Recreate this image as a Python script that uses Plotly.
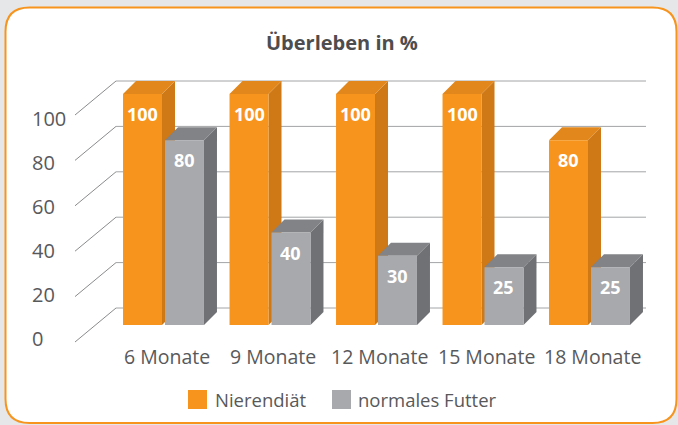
import plotly.graph_objects as go

# ---------------- data ----------------
categories = ["6 Monate", "9 Monate", "12 Monate", "15 Monate", "18 Monate"]
nierendiaet = [100, 100, 100, 100, 80]
normales_futter = [80, 40, 30, 25, 25]
series_names = ["Nierendiät", "normales Futter"]
y_ticks = [0, 20, 40, 60, 80, 100]
title_text = "Überleben in %"

# ---------------- layout constants (pixels) ----------------
W_PX, H_PX = 678, 425
X0, U = 163.5, 106.5        # pixel of group 0 centre, pixels per group
Y0, S = 325.0, 2.31         # pixel of value 0 on bar front plane, px per unit
OFF = 0.197                 # bar centre offset from group centre (groups units)
BW = 0.366                  # bar width (group units)
DEPTH = 13.0                # bar depth in pixels (oblique)
WALL_Y0, WALL_S = 308.0, 2.27
WALL_L, WALL_R = 116.0, 646.0
DIAG_DX, DIAG_DY = -41.0, 34.0

ORANGE = dict(front="#F7941D", top="#E2871B", side="#CE7816")
GRAY = dict(front="#A7A9AC", top="#818386", side="#707174")
TXT = "#58595B"
FONT = "Open Sans"


def px2x(px):
    return (px - X0) / U


def px2y(py):
    return (Y0 - py) / S


DXU = DEPTH / U
DYU = DEPTH / S

fig = go.Figure()
shapes = []
annotations = []

# card background
def card_path(x0, y0, x1, y1, r):
    def P(x, y):
        return f"{x / W_PX:.5f},{1 - y / H_PX:.5f}"
    return (f"M {P(x0 + r, y0)} L {P(x1 - r, y0)} Q {P(x1, y0)} {P(x1, y0 + r)} "
            f"L {P(x1, y1 - r)} Q {P(x1, y1)} {P(x1 - r, y1)} L {P(x0 + r, y1)} "
            f"Q {P(x0, y1)} {P(x0, y1 - r)} L {P(x0, y0 + r)} Q {P(x0, y0)} {P(x0 + r, y0)} Z")

shapes.append(dict(type="path", xref="paper", yref="paper", layer="below",
                   path=card_path(5.5, 7.5, 676.5, 423, 24),
                   fillcolor="white", line=dict(color="#F7941D", width=2)))

# back wall gridlines + left diagonals
for v in y_ticks:
    yb = WALL_Y0 - v * WALL_S
    shapes.append(dict(type="line", xref="x", yref="y", layer="below",
                       x0=px2x(WALL_L), x1=px2x(WALL_R), y0=px2y(yb), y1=px2y(yb),
                       line=dict(color="#A3A4A6", width=1)))
    shapes.append(dict(type="line", xref="x", yref="y", layer="below",
                       x0=px2x(WALL_L), x1=px2x(WALL_L + DIAG_DX),
                       y0=px2y(yb), y1=px2y(yb + DIAG_DY),
                       line=dict(color="#8A8B8D", width=1)))
    annotations.append(dict(x=px2x(30), y=px2y(338 - v * 2.2), xref="x", yref="y",
                            text=str(v), showarrow=False, xanchor="left", yanchor="middle",
                            font=dict(family=FONT, size=20, color=TXT)))


def faces(xc, v, col):
    xl, xr = xc - BW / 2, xc + BW / 2
    top = (f"M {xl},{v} L {xr},{v} L {xr + DXU},{v + DYU} L {xl + DXU},{v + DYU} Z")
    side = (f"M {xr},0 L {xr + DXU},{DYU} L {xr + DXU},{v + DYU} L {xr},{v} Z")
    for p, c in ((side, col["side"]), (top, col["top"])):
        shapes.append(dict(type="path", xref="x", yref="y", layer="below", path=p,
                           fillcolor=c, line=dict(width=0)))


xs = list(range(len(categories)))
for i in xs:
    faces(i - OFF, nierendiaet[i], ORANGE)
    faces(i + OFF, normales_futter[i], GRAY)

fig.add_trace(go.Bar(x=[i - OFF for i in xs], y=nierendiaet, width=BW, name=series_names[0],
                     marker=dict(color=ORANGE["front"], line=dict(width=0)),
                     hovertext=categories, showlegend=False))
fig.add_trace(go.Bar(x=[i + OFF for i in xs], y=normales_futter, width=BW, name=series_names[1],
                     marker=dict(color=GRAY["front"], line=dict(width=0)),
                     hovertext=categories, showlegend=False))

# value labels
for i in xs:
    for xc, v in ((i - OFF, nierendiaet[i]), (i + OFF, normales_futter[i])):
        annotations.append(dict(x=xc, y=v, xref="x", yref="y", text=f"<b>{v}</b>",
                                showarrow=False, yshift=-20, yanchor="middle",
                                font=dict(family=FONT, size=18, color="white")))
    annotations.append(dict(x=i + 0.03, y=px2y(356), xref="x", yref="y", text=categories[i],
                            showarrow=False, yanchor="middle",
                            font=dict(family=FONT, size=19.5, color=TXT)))

# title
annotations.append(dict(x=342 / W_PX, y=1 - 42 / H_PX, xref="paper", yref="paper",
                        text=f"<b>{title_text}</b>", showarrow=False, yanchor="middle",
                        font=dict(family=FONT, size=20, color="#4D4D4F")))

# legend (manual)
for (sx, tx, col, name) in ((188, 213, ORANGE["front"], series_names[0]),
                            (332, 356, GRAY["front"], series_names[1])):
    shapes.append(dict(type="rect", xref="paper", yref="paper",
                       x0=sx / W_PX, x1=(sx + 19) / W_PX,
                       y0=1 - 409 / H_PX, y1=1 - 390 / H_PX,
                       fillcolor=col, line=dict(width=0)))
    annotations.append(dict(x=tx / W_PX, y=1 - 399 / H_PX, xref="paper", yref="paper",
                            text=name, showarrow=False, xanchor="left", yanchor="middle",
                            font=dict(family=FONT, size=18.5, color=TXT)))

fig.update_layout(
    width=W_PX, height=H_PX,
    margin=dict(l=0, r=0, t=0, b=0),
    paper_bgcolor="#E6E7E8", plot_bgcolor="rgba(0,0,0,0)",
    barmode="overlay", showlegend=False,
    xaxis=dict(range=[px2x(0), px2x(W_PX)], visible=False, fixedrange=True),
    yaxis=dict(range=[px2y(H_PX), px2y(0)], visible=False, fixedrange=True),
    shapes=shapes, annotations=annotations,
)

fig.write_html("out.html", config=dict(displayModeBar=False),
               post_script="document.body.style.margin='0';document.body.style.overflow='hidden';")
